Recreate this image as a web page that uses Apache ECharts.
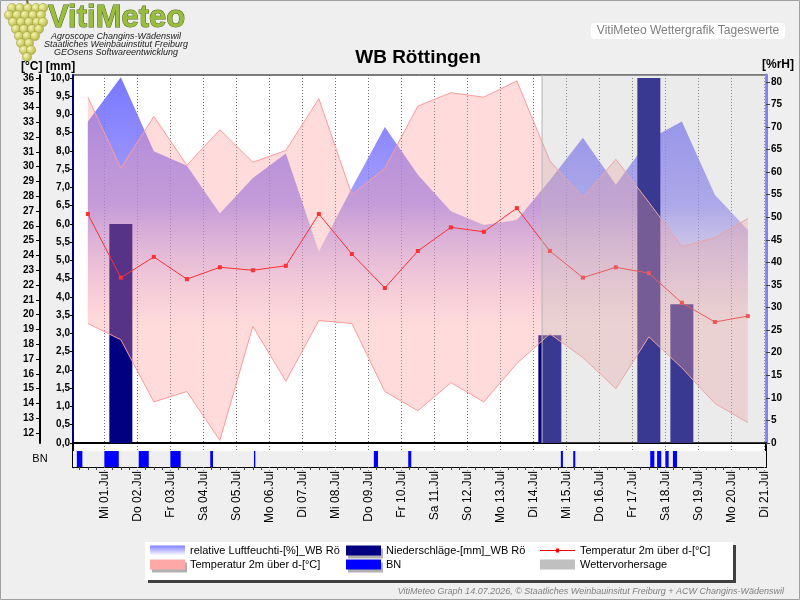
<!DOCTYPE html>
<html>
<head>
<meta charset="utf-8">
<title>WB Röttingen</title>
<script src="https://cdn.jsdelivr.net/npm/echarts@6/dist/echarts.min.js"></script>
<style>
  html, body { margin: 0; padding: 0; background: #efefef; }
  #chart { width: 800px; height: 600px; }
</style>
</head>
<body>
<div id="chart"></div>
<script>
    // Tageswerte 30.06. - 20.07., jeweils Mittag (x = Tage nach 01.07. 00:00)
    var dayLabels = ['Mi 01.Jul', 'Do 02.Jul', 'Fr 03.Jul', 'Sa 04.Jul', 'So 05.Jul', 'Mo 06.Jul', 'Di 07.Jul',
        'Mi 08.Jul', 'Do 09.Jul', 'Fr 10.Jul', 'Sa 11.Jul', 'So 12.Jul', 'Mo 13.Jul', 'Di 14.Jul',
        'Mi 15.Jul', 'Do 16.Jul', 'Fr 17.Jul', 'Sa 18.Jul', 'So 19.Jul', 'Mo 20.Jul', 'Di 21.Jul'];
    var dayTicks = [0, 1, 2, 3, 4, 5, 6, 7, 8, 9, 10, 11, 12, 13, 14, 15, 16, 17, 18, 19, 20];

    var tMax  = [34.7, 29.9, 33.4, 30.1, 32.5, 30.3, 31.1, 34.6, 28.1, 29.9, 34.1, 35.0, 34.7, 35.8, 30.4, 27.9, 30.5, 27.6, 24.6, 25.2, 26.5];
    var tMin  = [19.4, 18.3, 14.1, 14.8, 11.5, 19.2, 15.5, 19.6, 19.4, 14.8, 13.5, 15.4, 14.1, 16.7, 18.7, 17.1, 15.0, 18.5, 16.4, 14.0, 12.7];
    var tMean = [26.8, 22.5, 23.9, 22.4, 23.2, 23.0, 23.3, 26.8, 24.1, 21.8, 24.3, 25.9, 25.6, 27.2, 24.3, 22.5, 23.2, 22.8, 20.8, 19.5, 19.9];
    var rh    = [71.2, 81.0, 64.6, 61.4, 50.8, 58.7, 64.1, 42.4, 56.5, 70.0, 59.4, 51.3, 48.3, 49.4, 58.2, 67.6, 57.2, 67.2, 71.2, 55.0, 47.2];
    var rain  = [0, 6.0, 0, 0, 0, 0, 0, 0, 0, 0, 0, 0, 0, 0, 2.95, 0, 0, 10.0, 3.8, 0, 0];

    // Blattnaesse (BN): Zeitraeume in Stunden nach 01.07. 00:00
    var bnStart = [-20, 0, 25, 48, 77, 108.8, 196, 221, 332, 341, 397, 402, 408, 413.5];
    var bnEnd   = [-16, 10.5, 32.3, 55.5, 79, 109.8, 199, 223.2, 333.5, 342.5, 400, 405, 410.4, 416.5];

    var forecastStart = 13.25;   // Wettervorhersage ab 14.07. 06:00

    var tTicks  = [12, 13, 14, 15, 16, 17, 18, 19, 20, 21, 22, 23, 24, 25, 26, 27, 28, 29, 30, 31, 32, 33, 34, 35, 36];
    var mmTicks = [0, 0.5, 1, 1.5, 2, 2.5, 3, 3.5, 4, 4.5, 5, 5.5, 6, 6.5, 7, 7.5, 8, 8.5, 9, 9.5, 10];
    var rhTicks = [0, 5, 10, 15, 20, 25, 30, 35, 40, 45, 50, 55, 60, 65, 70, 75, 80];

    var legendText = {
        rh: 'relative Luftfeuchti-[%]_WB Rö',
        tBand: 'Temperatur 2m über d-[°C]',
        rain: 'Niederschläge-[mm]_WB Rö',
        bn: 'BN',
        tMean: 'Temperatur 2m über d-[°C]',
        fc: 'Wettervorhersage'
    };

    var FONT = '"Liberation Sans", Arial, sans-serif';
    var xMin = -0.95, xMax = 20.05;

    function pts(arr) {
        return arr.map(function (v, i) { return [i - 0.5, v]; });
    }
    var quarterTicks = [];
    for (var q = -0.75; q <= 20; q += 0.25) {
        if (Math.abs(q - Math.round(q)) > 0.01) quarterTicks.push(q);
    }
    var bnData = bnStart.map(function (s, i) { return [s / 24, bnEnd[i] / 24]; });

    var rhGrad = new echarts.graphic.LinearGradient(0, 0, 0, 1, [
        { offset: 0, color: 'rgba(120,120,255,1)' },
        { offset: 0.35, color: 'rgba(130,120,250,0.7)' },
        { offset: 0.68, color: 'rgba(200,160,230,0)' }
    ]);
    var rhIcon = new echarts.graphic.LinearGradient(0, 0, 0, 1, [
        { offset: 0, color: '#7f7fff' },
        { offset: 1, color: '#ffffff' }
    ]);

    // Weintraube fuers Logo
    var grapes = [];
    var rows = [[8, [12, 20, 28, 36, 43]], [15, [9, 17, 25, 33, 41]], [22, [13, 21, 29, 37, 43]],
        [29, [16, 24, 32, 39]], [36, [19, 27, 35]], [43, [21, 29]], [50, [24, 31]], [57, [27]]];
    rows.forEach(function (r) {
        r[1].forEach(function (cx) {
            grapes.push({
                type: 'circle', z: 10,
                shape: { cx: cx, cy: r[0], r: 4.6 },
                style: {
                    fill: new echarts.graphic.RadialGradient(0.35, 0.35, 0.8, [
                        { offset: 0, color: '#f6f6b0' }, { offset: 1, color: '#a8a830' }
                    ]),
                    stroke: '#9a9a30', lineWidth: 0.5
                }
            });
        });
    });

    var legendBase = {
        top: 545, orient: 'vertical', padding: 0, itemGap: 3, itemWidth: 35, itemHeight: 10, selectedMode: false,
        textStyle: { fontSize: 11, color: '#000', fontFamily: FONT },
        formatter: function (n) { return legendText[n] || n; }
    };
    var iconShadow = { shadowColor: '#b0b0b0', shadowOffsetX: 2, shadowOffsetY: 3 };

    var myChart = echarts.init(document.getElementById('chart'), null, { renderer: 'canvas' });

    var option = {
        backgroundColor: '#efefef',
        animation: false,
        textStyle: { fontFamily: FONT },
        grid: [
            { left: 73, right: 34, top: 75, height: 368, show: true, backgroundColor: '#ffffff', borderColor: '#000', borderWidth: 1 },
            { left: 73, right: 34, top: 443, height: 24, show: true, backgroundColor: '#ffffff', borderColor: '#000', borderWidth: 2 },
            { left: 73, right: 34, top: 443, height: 24, show: false }
        ],
        xAxis: [
            {
                type: 'value', gridIndex: 0, min: xMin, max: xMax,
                axisLine: { show: true, onZero: false, lineStyle: { color: '#000', width: 2 } },
                axisTick: { show: false, customValues: dayTicks },
                axisLabel: { show: false, customValues: dayTicks },
                splitLine: { show: true, lineStyle: { color: '#707070', width: 1, type: [1, 2] } }
            },
            {
                type: 'value', gridIndex: 1, min: xMin, max: xMax,
                axisLine: { show: false, onZero: false },
                axisTick: { show: true, length: 6, customValues: dayTicks, lineStyle: { color: '#707070', type: [1, 2] } },
                axisLabel: {
                    customValues: dayTicks, rotate: 90, margin: 4, fontSize: 12, color: '#000', fontFamily: FONT,
                    formatter: function (v) { return dayLabels[Math.round(v)]; }
                },
                splitLine: { show: true, lineStyle: { color: '#707070', width: 1, type: [1, 2] } }
            },
            {
                type: 'value', gridIndex: 2, min: xMin, max: xMax,
                axisLine: { show: false, onZero: false },
                axisTick: { show: true, length: 3, customValues: quarterTicks, lineStyle: { color: '#404040' } },
                axisLabel: { show: false },
                splitLine: { show: false }
            }
        ],
        yAxis: [
            {   // Temperatur
                type: 'value', gridIndex: 0, position: 'left', offset: 33, min: 11.32, max: 36.2,
                axisLine: { show: true, onZero: false, lineStyle: { color: '#000', width: 2 } },
                axisTick: { show: true, length: 4, customValues: tTicks, lineStyle: { color: '#000' } },
                axisLabel: { customValues: tTicks, margin: 6, color: '#000', fontWeight: 'bold', fontSize: 10, fontFamily: FONT },
                splitLine: { show: false }
            },
            {   // Niederschlag
                type: 'value', gridIndex: 0, position: 'left', offset: 0, min: 0, max: 10.08,
                axisLine: { show: true, onZero: false, lineStyle: { color: '#000080', width: 2 } },
                axisTick: { show: true, length: 3, customValues: mmTicks, lineStyle: { color: '#000' } },
                axisLabel: {
                    customValues: mmTicks, margin: 3, color: '#000', fontWeight: 'bold', fontSize: 10, fontFamily: FONT,
                    formatter: function (v) { return v.toFixed(1).replace('.', ','); }
                },
                splitLine: { show: false }
            },
            {   // rel. Feuchte
                type: 'value', gridIndex: 0, position: 'right', offset: 0, min: 0, max: 81.5,
                axisLine: { show: true, onZero: false, lineStyle: { color: '#8080ff', width: 3 } },
                axisTick: { show: true, length: 4, customValues: rhTicks, lineStyle: { color: '#404040' } },
                axisLabel: { customValues: rhTicks, margin: 5, color: '#000', fontWeight: 'bold', fontSize: 10, fontFamily: FONT },
                splitLine: { show: false }
            },
            { type: 'value', gridIndex: 1, min: 0, max: 1.5, show: false },
            { type: 'value', gridIndex: 2, min: 0, max: 1.5, show: false }
        ],
        legend: [
            Object.assign({}, legendBase, {
                left: 150,
                data: [
                    { name: 'rh', icon: 'rect', itemStyle: { color: rhIcon, borderWidth: 0 } },
                    { name: 'tBand', icon: 'rect', itemStyle: Object.assign({ color: '#ffa8a8', borderWidth: 0 }, iconShadow) }
                ]
            }),
            Object.assign({}, legendBase, {
                left: 346,
                data: [
                    { name: 'rain', icon: 'rect', itemStyle: Object.assign({ color: '#000080' }, iconShadow) },
                    { name: 'bn', icon: 'rect', itemStyle: Object.assign({ color: '#0000ff' }, iconShadow) }
                ]
            }),
            Object.assign({}, legendBase, {
                left: 540,
                data: [
                    { name: 'tMean', icon: 'path://M0,4.5L35,4.5L35,5.5L0,5.5Z M16,3L19,3L19,7L16,7Z', itemStyle: { color: '#ff0000' } },
                    { name: 'fc', icon: 'rect', itemStyle: { color: '#c0c0c0' } }
                ]
            })
        ],
        graphic: [
            { type: 'rect', z: -10, silent: true, shape: { x: 0.5, y: 0.5, width: 799, height: 599 }, style: { fill: 'none', stroke: '#a0a0a0', lineWidth: 1 } },
            { type: 'line', z: 10, shape: { x1: 27, y1: 0, x2: 28, y2: 5 }, style: { stroke: '#6b6b20', lineWidth: 2 } }
        ].concat(grapes).concat([
            { type: 'text', z: 10, style: { x: 48, y: 18, text: 'VitiMeteo', font: 'bold 31px ' + FONT, fill: '#98be3c', stroke: '#4e641e', lineWidth: 1, verticalAlign: 'middle', shadowColor: 'rgba(0,0,0,0.35)', shadowOffsetX: 1, shadowOffsetY: 1 } },
            { type: 'text', z: 10, style: { x: 116, y: 36, text: 'Agroscope Changins-Wädenswil', font: 'italic 9px ' + FONT, fill: '#222', align: 'center', verticalAlign: 'middle' } },
            { type: 'text', z: 10, style: { x: 116, y: 44, text: 'Staatliches Weinbauinstitut Freiburg', font: 'italic 9px ' + FONT, fill: '#222', align: 'center', verticalAlign: 'middle' } },
            { type: 'text', z: 10, style: { x: 116, y: 52, text: 'GEOsens Softwareentwicklung', font: 'italic 9px ' + FONT, fill: '#222', align: 'center', verticalAlign: 'middle' } },
            { type: 'rect', z: 10, shape: { x: 591, y: 23, width: 194, height: 16, r: 4 }, style: { fill: '#ffffff' } },
            { type: 'text', z: 11, style: { x: 688, y: 31, text: 'VitiMeteo Wettergrafik Tageswerte', font: '12px ' + FONT, fill: '#808080', align: 'center', verticalAlign: 'middle' } },
            { type: 'text', z: 10, style: { x: 418, y: 58, text: 'WB Röttingen', font: 'bold 19px ' + FONT, fill: '#000', align: 'center', verticalAlign: 'middle' } },
            { type: 'text', z: 10, style: { x: 21, y: 67, text: '[°C] [mm]', font: 'bold 12px ' + FONT, fill: '#000', verticalAlign: 'middle' } },
            { type: 'text', z: 10, style: { x: 762, y: 65, text: '[%rH]', font: 'bold 12px ' + FONT, fill: '#000', verticalAlign: 'middle' } },
            { type: 'text', z: 10, style: { x: 40, y: 459, text: 'BN', font: '11px ' + FONT, fill: '#000', align: 'center', verticalAlign: 'middle' } },
            { type: 'rect', z: 1, shape: { x: 145, y: 542, width: 588, height: 38 }, style: { fill: '#ffffff', shadowColor: '#404040', shadowOffsetX: 3, shadowOffsetY: 3, shadowBlur: 0 } },
            { type: 'text', z: 10, style: { x: 784, y: 591, text: 'VitiMeteo Graph 14.07.2026, © Staatliches Weinbauinsitut Freiburg + ACW Changins-Wädenswil', font: 'italic 9px ' + FONT, fill: '#808080', align: 'right', verticalAlign: 'middle' } }
        ]),
        series: [
            {
                name: 'rh', type: 'line', xAxisIndex: 0, yAxisIndex: 2, z: 1,
                data: pts(rh), symbol: 'none', lineStyle: { width: 0, color: '#8080ff' },
                itemStyle: { color: '#8080ff' },
                areaStyle: { color: rhGrad, opacity: 1 }
            },
            {
                name: 'rain', type: 'bar', xAxisIndex: 0, yAxisIndex: 1, z: 2,
                data: pts(rain), barWidth: 23, itemStyle: { color: '#000080' }
            },
            {
                // Band Tagesminimum bis Tagesmaximum
                name: 'tBand', type: 'custom', xAxisIndex: 0, yAxisIndex: 0, z: 3, silent: true,
                data: [[-0.5, tMin[0]]], encode: { x: 0, y: 1 },
                itemStyle: { color: '#ffa8a8' },
                renderItem: function (params, api) {
                    var top = tMax.map(function (v, i) { return api.coord([i - 0.5, v]); });
                    var bot = tMin.map(function (v, i) { return api.coord([i - 0.5, v]); });
                    var poly = top.concat(bot.slice().reverse());
                    return {
                        type: 'group', children: [
                            { type: 'polygon', shape: { points: poly }, style: { fill: 'rgba(255,150,150,0.34)' } },
                            { type: 'polyline', shape: { points: top }, style: { stroke: '#ff9999', lineWidth: 1, fill: null } },
                            { type: 'polyline', shape: { points: bot }, style: { stroke: '#ff9999', lineWidth: 1, fill: null } }
                        ]
                    };
                }
            },
            {
                name: 'tMean', type: 'line', xAxisIndex: 0, yAxisIndex: 0, z: 4,
                data: pts(tMean), symbol: 'rect', symbolSize: 4, showAllSymbol: true,
                lineStyle: { width: 1, color: '#ff3030' }, itemStyle: { color: '#ff3030' }
            },
            {
                name: 'fc', type: 'custom', xAxisIndex: 0, yAxisIndex: 1, z: 6, silent: true,
                data: [[forecastStart]], encode: { x: 0 },
                itemStyle: { color: '#c0c0c0' },
                renderItem: function (params, api) {
                    var cs = params.coordSys;
                    var x0 = api.coord([api.value(0), 0])[0];
                    return {
                        type: 'group', children: [
                            { type: 'rect', shape: { x: x0, y: cs.y, width: cs.x + cs.width - x0, height: cs.height }, style: { fill: 'rgba(190,190,190,0.3)' } },
                            { type: 'line', shape: { x1: x0 + 0.5, y1: cs.y, x2: x0 + 0.5, y2: cs.y + cs.height }, style: { stroke: '#b8b8b8', lineWidth: 1 } }
                        ]
                    };
                }
            },
            {
                name: 'bnBack', type: 'custom', xAxisIndex: 1, yAxisIndex: 3, z: 1, silent: true,
                data: [[0]], encode: { x: 0 },
                renderItem: function (params, api) {
                    var cs = params.coordSys;
                    var top = api.coord([0, 1])[1];
                    return { type: 'rect', shape: { x: cs.x, y: top, width: cs.width, height: cs.y + cs.height - top }, style: { fill: '#efefef' } };
                }
            },
            {
                name: 'bn', type: 'custom', xAxisIndex: 1, yAxisIndex: 3, z: 2, silent: true,
                data: bnData, encode: { x: [0, 1] },
                itemStyle: { color: '#0000ff' },
                renderItem: function (params, api) {
                    var s = api.coord([api.value(0), 1]);
                    var e = api.coord([api.value(1), 0]);
                    return { type: 'rect', shape: { x: s[0], y: s[1], width: Math.max(e[0] - s[0], 1.2), height: e[1] - s[1] }, style: { fill: '#0000ff' } };
                }
            }
        ]
    };

    myChart.setOption(option);
</script>
</body>
</html>
